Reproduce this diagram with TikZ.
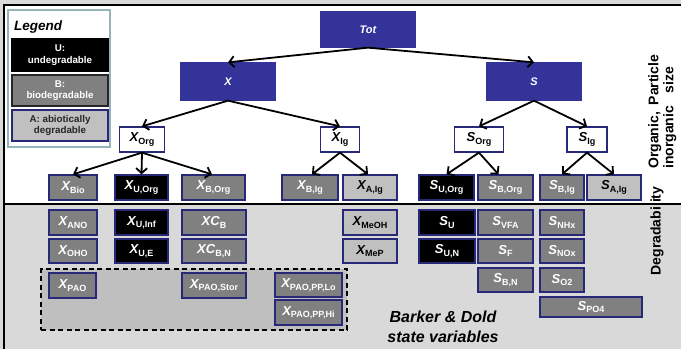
\documentclass[tikz,border=0pt]{standalone}
\usepackage{fontspec}
\setmainfont{Liberation Sans}
\usetikzlibrary{arrows.meta}
\definecolor{navy}{RGB}{51,51,153}
\definecolor{bord}{RGB}{40,40,120}
\definecolor{midgray}{RGB}{128,128,128}
\definecolor{ltgray}{RGB}{192,192,192}
\definecolor{bggray}{RGB}{217,217,217}
\definecolor{dashfill}{RGB}{191,191,191}
\definecolor{legbord}{RGB}{150,180,185}
\newcommand{\varnm}[2]{{\fontsize{13}{15}\selectfont\bfseries\itshape #1}{\fontsize{9}{10}\selectfont\bfseries\raisebox{-2.5pt}{#2}}}
\tikzset{
  box/.style={draw=bord, line width=1.3pt, inner sep=0pt, minimum height=25pt},
  gbox/.style={box, fill=midgray, text=white},
  kbox/.style={box, fill=black, text=white},
  lbox/.style={box, fill=ltgray, text=black},
  wbox/.style={box, fill=white, text=black},
  nbox/.style={box, fill=navy, draw=navy, text=white, font=\fontsize{11}{13}\selectfont\bfseries\itshape},
  legbox/.style={line width=1.3pt, inner sep=0pt, minimum width=96pt, align=center, font=\fontsize{9.8}{11.5}\selectfont\bfseries},
  arr/.style={line width=1.8pt, -{Straight Barb[length=5pt,width=11pt]}},
  sidetext/.style={rotate=90, inner sep=0pt, font=\fontsize{14}{15}\selectfont\bfseries}
}
\begin{document}
\begin{tikzpicture}[x=1pt,y=-1pt]
\useasboundingbox (0,0) rectangle (681,349);
% background
\fill[bggray] (0,0) rectangle (681,349);
\fill[white] (4,5) rectangle (681,204);
\draw[line width=1.5pt] (4,349) -- (4,5) -- (681,5);
\draw[line width=1.5pt] (4,204) -- (681,204);

% legend
\node[draw=legbord, fill=white, line width=1.2pt, minimum width=102pt, minimum height=137pt, inner sep=0pt] (legend) at (59,78.5) {};
\node[anchor=west, inner sep=0pt, font=\fontsize{13.5}{15}\selectfont\bfseries\itshape] (legtitle) at (14,27) {Legend};
\node[legbox, fill=black, draw=black, text=white, minimum height=32pt] (legu) at (60,55) {U:\\undegradable};
\node[legbox, fill=midgray, draw=black!85, text=white, minimum height=31pt] (legb) at (60,90.5) {B:\\biodegradable};
\node[legbox, fill=ltgray, draw=bord, text=black!85, minimum height=31pt] (lega) at (60,125.5) {A: abiotically\\degradable};

% top levels
\node[nbox, minimum width=94pt, minimum height=35pt] (tot) at (368,29.5) {Tot};
\node[nbox, minimum width=94pt, minimum height=37pt] (x) at (228,81.5) {X};
\node[nbox, minimum width=94pt, minimum height=37pt] (s) at (534,81.5) {S};

\node[wbox, minimum width=45pt] (xorg) at (142,139.5) {\varnm{X}{Org}};
\node[wbox, minimum width=39pt] (xig) at (340,139.5) {\varnm{X}{Ig}};
\node[wbox, minimum width=49pt] (sorg) at (479,139.5) {\varnm{S}{Org}};
\node[wbox, minimum width=40pt] (sig) at (587,139.5) {\varnm{S}{Ig}};

% row 3
\node[gbox, minimum width=48pt] (xbio) at (73,187.5) {\varnm{X}{Bio}};
\node[kbox, minimum width=53pt] (xuorg) at (141.5,187.5) {\varnm{X}{U,Org}};
\node[gbox, minimum width=63pt] (xborg) at (213.5,187.5) {\varnm{X}{B,Org}};
\node[gbox, minimum width=56pt] (xbig) at (310,187.5) {\varnm{X}{B,Ig}};
\node[lbox, minimum width=54pt] (xaig) at (370,187.5) {\varnm{X}{A,Ig}};
\node[kbox, minimum width=55pt] (suorg) at (446.5,187.5) {\varnm{S}{U,Org}};
\node[gbox, minimum width=55pt] (sborg) at (505.5,187.5) {\varnm{S}{B,Org}};
\node[gbox, minimum width=44pt] (sbig) at (562,187.5) {\varnm{S}{B,Ig}};
\node[lbox, minimum width=54pt] (saig) at (614,187.5) {\varnm{S}{A,Ig}};

% arrows
\draw[arr] (tot.south) -- (x.north);
\draw[arr] (tot.south) -- (s.north);
\draw[arr] (x.south) -- (xorg.north);
\draw[arr] (x.south) -- (xig.north);
\draw[arr] (s.south) -- (sorg.north);
\draw[arr] (s.south) -- (sig.north);
\draw[arr] (xorg.south) -- (xbio.north);
\draw[arr] (xorg.south) -- (xuorg.north);
\draw[arr] (xorg.south) -- ([xshift=-1.5pt]xborg.north);
\draw[arr] (xig.south) -- ([xshift=2pt]xbig.north);
\draw[arr] (xig.south) -- ([xshift=-2pt]xaig.north);
\draw[arr] (sorg.south) -- (suorg.north);
\draw[arr] (sorg.south) -- ([xshift=-7pt]sborg.north);
\draw[arr] (sig.south) -- (sbig.north);
\draw[arr] (sig.south) -- (saig.north);

% PAO group
\node[draw=black, fill=dashfill, line width=1.3pt, dash pattern=on 5pt off 3.5pt, minimum width=306pt, minimum height=61pt, inner sep=0pt] (paogroup) at (194,299.5) {};

% row 4
\node[gbox, minimum width=48pt] (xano) at (73,222.5) {\varnm{X}{ANO}};
\node[kbox, minimum width=53pt] (xuinf) at (141.5,222.5) {\varnm{X}{U,Inf}};
\node[gbox, minimum width=64pt] (xcb) at (214,222.5) {\varnm{XC}{B}};
\node[lbox, minimum width=54pt] (xmeoh) at (370,222.5) {\varnm{X}{MeOH}};
\node[kbox, minimum width=56pt] (su) at (447,222.5) {\varnm{S}{U}};
\node[gbox, minimum width=55pt] (svfa) at (505.5,222.5) {\varnm{S}{VFA}};
\node[gbox, minimum width=44pt] (snhx) at (562,222.5) {\varnm{S}{NHx}};

% row 5
\node[gbox, minimum width=48pt, minimum height=24pt] (xoho) at (73,251) {\varnm{X}{OHO}};
\node[kbox, minimum width=53pt, minimum height=24pt] (xue) at (141.5,251) {\varnm{X}{U,E}};
\node[gbox, minimum width=64pt, minimum height=24pt] (xcbn) at (214,251) {\varnm{XC}{B,N}};
\node[lbox, minimum width=54pt, minimum height=24pt] (xmep) at (370,251) {\varnm{X}{MeP}};
\node[kbox, minimum width=56pt, minimum height=24pt] (sun) at (447,251) {\varnm{S}{U,N}};
\node[gbox, minimum width=55pt, minimum height=24pt] (sf) at (505.5,251) {\varnm{S}{F}};
\node[gbox, minimum width=44pt, minimum height=24pt] (snox) at (562,251) {\varnm{S}{NOx}};

% row 6
\node[gbox, minimum width=55pt, minimum height=24pt] (sbn) at (505.5,280) {\varnm{S}{B,N}};
\node[gbox, minimum width=44pt, minimum height=24pt] (so2) at (562,280) {\varnm{S}{O2}};
\node[gbox, minimum width=102pt, minimum height=20pt] (spo4) at (591,307) {\varnm{S}{PO4}};
\node[gbox, minimum width=47pt] (xpao) at (72.5,285.5) {\varnm{X}{PAO}};
\node[gbox, minimum width=64pt] (xpaostor) at (214,285.5) {\varnm{X}{PAO,Stor}};
\node[gbox, minimum width=67pt, minimum height=24pt] (xpaolo) at (308.5,285) {\varnm{X}{PAO,PP,Lo}};
\node[gbox, minimum width=67pt] (xpaohi) at (308.5,312.5) {\varnm{X}{PAO,PP,Hi}};

% caption
\node[align=center, inner sep=0pt, font=\fontsize{16}{20}\selectfont\bfseries\itshape] (bd) at (443,327) {Barker \& Dold\\state variables};

% side labels
\node[sidetext, anchor=north west, align=left] (orginorg) at (648,169) {Organic,\\inorganic};
\node[sidetext, anchor=north, align=center] (partsize) at (648,80) {Particle\\size};
\node[sidetext] (degr) at (657,231) {Degradability};
\end{tikzpicture}
\end{document}
